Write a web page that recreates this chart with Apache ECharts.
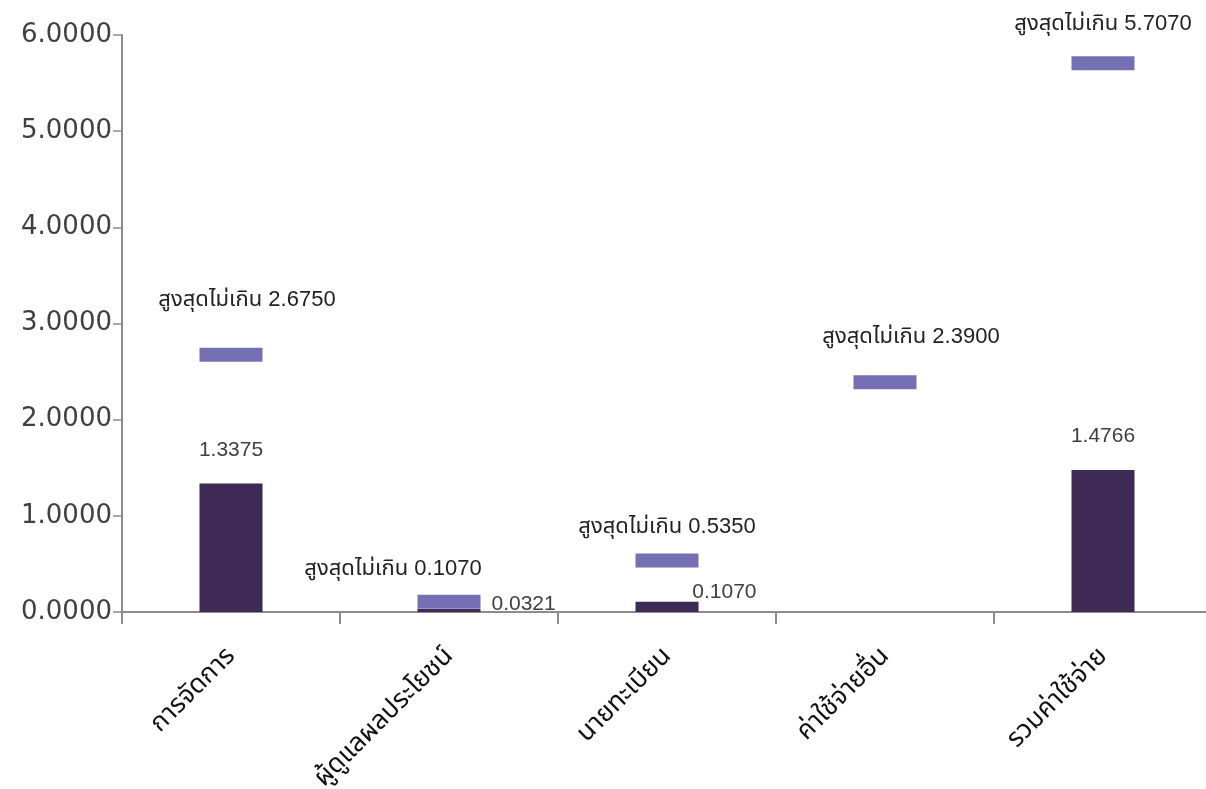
<!DOCTYPE html>
<html>
<head>
<meta charset="utf-8">
<script src="https://cdn.jsdelivr.net/npm/echarts@6/dist/echarts.min.js"></script>
<style>
  html, body { margin: 0; padding: 0; background: #fff; }
  #chart { width: 1206px; height: 789px; }
</style>
</head>
<body>
<div id="chart"></div>
<script>
const categories = ["การจัดการ", "ผู้ดูแลผลประโยชน์", "นายทะเบียน", "ค่าใช้จ่ายอื่น", "รวมค่าใช้จ่าย"];
const actualValues = [1.3375, 0.0321, 0.1070, null, 1.4766];
const maxValues = [2.6750, 0.1070, 0.5350, 2.3900, 5.7070];
const yTicks = [0, 1, 2, 3, 4, 5, 6];

const FONT = "Arial, 'Liberation Sans', 'Noto Sans Thai', Tahoma, sans-serif";
const TEXT = "#404040";
const AXIS = "#8c8c8c";

// label nudges for the max markers (Excel placed them unevenly)
const maxLabelShift = [[16, -7], [-56, 15], [0, 14], [26, 3], [0, 9]];

const chart = echarts.init(document.getElementById("chart"));

// small bars get their label beside the bar, like the original
const barData = actualValues.map((v) => {
  if (v == null) return null;
  if (v < 0.05) {
    return { value: v, label: { position: "right", offset: [-12, -6] } };
  }
  if (v < 0.5) {
    return { value: v, label: { position: "insideBottomRight", offset: [81, 14] } };
  }
  return v;
});

const maxData = maxValues.map((v, i) => ({
  value: v,
  label: { offset: maxLabelShift[i] },
}));

chart.setOption({
  animation: false,
  textStyle: { fontFamily: FONT },
  grid: {
    left: 122,
    right: -6,
    top: 35,
    bottom: 177,
    containLabel: false,
    outerBoundsMode: "none",
  },
  xAxis: {
    type: "category",
    data: categories,
    axisLine: { lineStyle: { color: AXIS, width: 2 } },
    axisTick: { show: true, length: 12, lineStyle: { color: AXIS, width: 2 } },
    axisLabel: {
      rotate: 45,
      margin: 40,
      fontSize: 26,
      color: "#111",
      fontFamily: FONT,
    },
  },
  yAxis: {
    type: "value",
    min: yTicks[0],
    max: yTicks[yTicks.length - 1],
    interval: 1,
    axisLine: { show: true, lineStyle: { color: AXIS, width: 2 } },
    axisTick: { show: true, length: 9, lineStyle: { color: AXIS, width: 1.5 } },
    splitLine: { show: false },
    axisLabel: {
      margin: 10,
      fontSize: 26,
      color: TEXT,
      fontFamily: "'DejaVu Sans', Arial, sans-serif",
      formatter: (v) => v.toFixed(4),
    },
  },
  series: [
    {
      type: "bar",
      data: barData,
      barWidth: 63,
      itemStyle: { color: "#3f2a56" },
      label: {
        show: true,
        position: "top",
        distance: 23,
        fontSize: 21,
        color: TEXT,
        formatter: (p) => (p.value == null ? "" : Number(p.value).toFixed(4)),
      },
      z: 2,
    },
    {
      type: "scatter",
      data: maxData,
      symbol: "rect",
      symbolSize: [63, 14],
      itemStyle: { color: "#7470b3", opacity: 1 },
      label: {
        show: true,
        position: "top",
        distance: 30,
        fontSize: 22,
        color: "#222",
        formatter: (p) => "สูงสุดไม่เกิน " + Number(p.value).toFixed(4),
      },
      z: 3,
    },
  ],
});
</script>
</body>
</html>
